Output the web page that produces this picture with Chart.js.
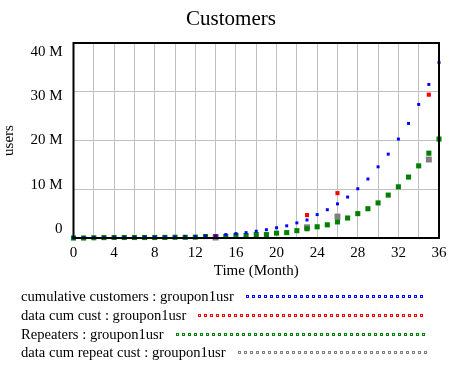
<!DOCTYPE html>
<html>
<head>
<meta charset="utf-8">
<script src="https://cdn.jsdelivr.net/npm/chart.js@4"></script>
<style>
html,body{margin:0;padding:0;background:#fff;}
#wrap{width:458px;height:365px;position:relative;}
</style>
</head>
<body>
<div id="wrap"><canvas id="c" width="458" height="365"></canvas></div>
<script>
const months = [0,1,2,3,4,5,6,7,8,9,10,11,12,13,14,15,16,17,18,19,20,21,22,23,24,25,26,27,28,29,30,31,32,33,34,35,36];
const cumulativeCustomers = [0,0.05,0.1,0.12,0.14,0.15,0.16,0.17,0.18,0.2,0.22,0.25,0.3,0.4,0.4,0.7,0.9,1.1,1.4,1.7,2.1,2.5,3.1,3.7,4.8,5.8,7.0,8.4,10.1,12.1,14.6,17.2,20.3,23.5,27.4,31.5,36.0];
const repeaters = [0,0,0.05,0.08,0.1,0.1,0.1,0.1,0.1,0.12,0.15,0.15,0.18,0.3,0.3,0.3,0.5,0.5,0.7,0.7,1.0,1.1,1.5,1.9,2.3,2.7,3.3,4.1,5.0,6.0,7.2,8.8,10.5,12.5,14.8,17.4,20.3];
const dataMonths = [14,23,26,35];
const dataCumCust = [0.4,4.7,9.2,29.4];
const dataCumRepeat = [0.1,2.2,4.4,16.1];
const yTicks = [0,10,20,30,40];
const chartTitle = 'Customers';
const seriesNames = ['cumulative customers : groupon1usr','data cum cust : groupon1usr','Repeaters : groupon1usr','data cum repeat cust : groupon1usr'];
const seriesColors = ['#0000ff','#ff0000','#008000','#808080'];

const M = 1e6;
const pts = (xs, ys) => xs.map((x,i)=>({x:x,y:ys[i]*M}));
const serif = "'Liberation Serif','Times New Roman',serif";
const yLabel = (v) => (v===0 ? '0' : (v/M)+' M');

const vensimPlugin = {
  id:'vensimDecor',
  afterDraw(chart){
    const ctx = chart.ctx;
    const a = chart.chartArea;
    ctx.save();
    ctx.font = '21px ' + serif;
    ctx.fillStyle = '#000';
    ctx.textAlign = 'center';
    ctx.textBaseline = 'middle';
    ctx.fillText(chartTitle, chart.width/2 + 2, a.top - 24);
    const ys = chart.scales.y;
    const mid = (a.top + a.bottom)/2;
    ctx.font = '15px ' + serif;
    ctx.textAlign = 'right';
    yTicks.forEach(t=>{
      const p = ys.getPixelForValue(t*M);
      ctx.fillText(yLabel(t*M), a.left - 11, mid + (p - mid)*0.908);
    });
    ctx.textAlign = 'left';
    ctx.font = '14.6px ' + serif;
    const baseY = Math.round(a.bottom + 59);
    seriesNames.forEach((name,i)=>{
      const y = baseY + Math.round(i*18.8);
      const x0 = 21;
      ctx.fillStyle = '#000';
      ctx.fillText(name, x0, y);
      const w = ctx.measureText(name).width;
      let px = Math.round(x0 + w + 12);
      while (px < 426) {
        ctx.fillStyle = seriesColors[i];
        ctx.fillRect(px, y-2, 3, 3);
        ctx.fillStyle = '#fff';
        ctx.fillRect(px+1, y-1, 1, 1);
        px += 6;
      }
    });
    ctx.strokeStyle = '#000';
    ctx.lineWidth = 2;
    ctx.strokeRect(a.left, a.top, a.right-a.left, a.bottom-a.top);
    ctx.restore();
  }
};

new Chart(document.getElementById('c'), {
  type:'scatter',
  data:{
    datasets:[
      {label:seriesNames[0], data:pts(months,cumulativeCustomers), backgroundColor:seriesColors[0], pointStyle:'rect', pointRadius:2.1, borderWidth:0, pointBorderWidth:0, clip:false},
      {label:seriesNames[1], data:pts(dataMonths,dataCumCust), backgroundColor:seriesColors[1], pointStyle:'rect', pointRadius:2.9, borderWidth:0, pointBorderWidth:0, clip:false},
      {label:seriesNames[2], data:pts(months,repeaters), backgroundColor:seriesColors[2], pointStyle:'rect', pointRadius:3.6, borderWidth:0, pointBorderWidth:0, clip:false},
      {label:seriesNames[3], data:pts(dataMonths,dataCumRepeat), backgroundColor:seriesColors[3], pointStyle:'rect', pointRadius:4.2, borderWidth:0, pointBorderWidth:0, clip:false}
    ]
  },
  options:{
    responsive:false,
    animation:false,
    layout:{padding:{left:0,right:19,top:43,bottom:85}},
    plugins:{
      legend:{display:false},
      tooltip:{enabled:false},
      title:{display:false}
    },
    scales:{
      x:{
        type:'linear', min:0, max:36,
        ticks:{stepSize:2, color:'#000', font:{family:serif,size:15}, padding:6, maxRotation:0, autoSkip:false,
          callback:(v)=> (v%4===0 ? String(v) : '')},
        grid:{color:'#c0c0c0', lineWidth:1, drawTicks:false},
        border:{display:false},
        title:{display:true,text:'Time (Month)',color:'#000',font:{family:serif,size:15},padding:{top:0,bottom:0}},
        afterFit:(s)=>{s.height=42;}
      },
      y:{
        min:0, max:40*M,
        afterBuildTicks:(s)=>{s.ticks = yTicks.map(v=>({value:v*M}));},
        ticks:{display:false},
        grid:{color:'#c0c0c0', lineWidth:1, drawTicks:false},
        border:{display:false},
        title:{display:true,text:'users',color:'#000',font:{family:serif,size:15},padding:{top:0,bottom:0}},
        afterFit:(s)=>{s.width=73.5;}
      }
    }
  },
  plugins:[vensimPlugin]
});
</script>
</body>
</html>
